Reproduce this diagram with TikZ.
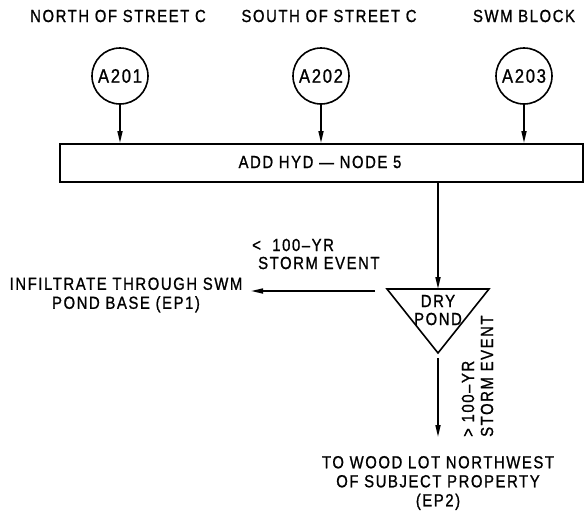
\documentclass[tikz,border=0pt]{standalone}
\usepackage{fontspec}
\setmainfont[LetterSpace=9,FakeStretch=0.85,FakeBold=1]{Liberation Sans}
\usetikzlibrary{arrows.meta}
\begin{document}
\begin{tikzpicture}[x=1pt,y=-1pt,
  lbl/.style={inner sep=0pt,font=\fontsize{17.5}{19}\selectfont,align=center},
  src/.style={draw,circle,line width=1.6pt,minimum size=56pt,inner sep=0pt,font=\fontsize{19.5}{21}\selectfont},
  flow/.style={line width=1.6pt,-{Triangle[length=12pt,width=5pt]}},
  ln/.style={line width=1.6pt}]
\useasboundingbox (0,0) rectangle (587,520);
% top labels
\node[lbl] (l1) at (118,16) {NORTH OF STREET C};
\node[lbl] (l2) at (329,16) {SOUTH OF STREET C};
\node[lbl] (l3) at (524,16) {SWM BLOCK};
% circles
\node[src] (a1) at (120,76) {A201};
\node[src] (a2) at (321,76) {A202};
\node[src] (a3) at (524,76) {A203};
% box
\node[draw,ln,minimum width=523pt,minimum height=38pt,inner sep=0pt,anchor=north west] (box) at (59,143) {};
\node[lbl] (boxt) at (320,162) {ADD HYD — NODE 5};
\draw[flow] (a1) -- (a1 |- box.north);
\draw[flow] (a2) -- (a2 |- box.north);
\draw[flow] (a3) -- (a3 |- box.north);
% triangle
\coordinate (tl) at (387,289);
\coordinate (tr) at (489,289);
\coordinate (ap) at (438,353);
\coordinate (tt) at (438,289);
\draw[ln,line join=miter] (tl) -- (tr) -- (ap) -- cycle;
\node[lbl] (dry) at (438,301) {DRY};
\node[lbl] (pond) at (438,319) {POND};
\draw[flow] (box.south -| tt) -- (tt);
% left outlet
\coordinate (lstart) at (375,291);
\node[lbl] (ep1) at (126,295) {INFILTRATE THROUGH SWM\\POND BASE (EP1)};
\coordinate (lend) at (251,291);
\draw[flow] (lstart) -- (lend);
\node[lbl,anchor=west] (lt1) at (252,245) {<\ \ 100–YR};
\node[lbl,anchor=west] (lt2) at (258,263) {STORM EVENT};
% down outlet
\coordinate (dstart) at (438,358);
\coordinate (dend) at (438,437);
\draw[flow] (dstart) -- (dend);
\node[lbl,rotate=90,anchor=west] (dt1) at (468,437) {>\ 100–YR};
\node[lbl,rotate=90,anchor=west] (dt2) at (487,437) {STORM EVENT};
\node[lbl] (ep2) at (438,483) {TO WOOD LOT NORTHWEST\\OF SUBJECT PROPERTY\\(EP2)};
\end{tikzpicture}
\end{document}
